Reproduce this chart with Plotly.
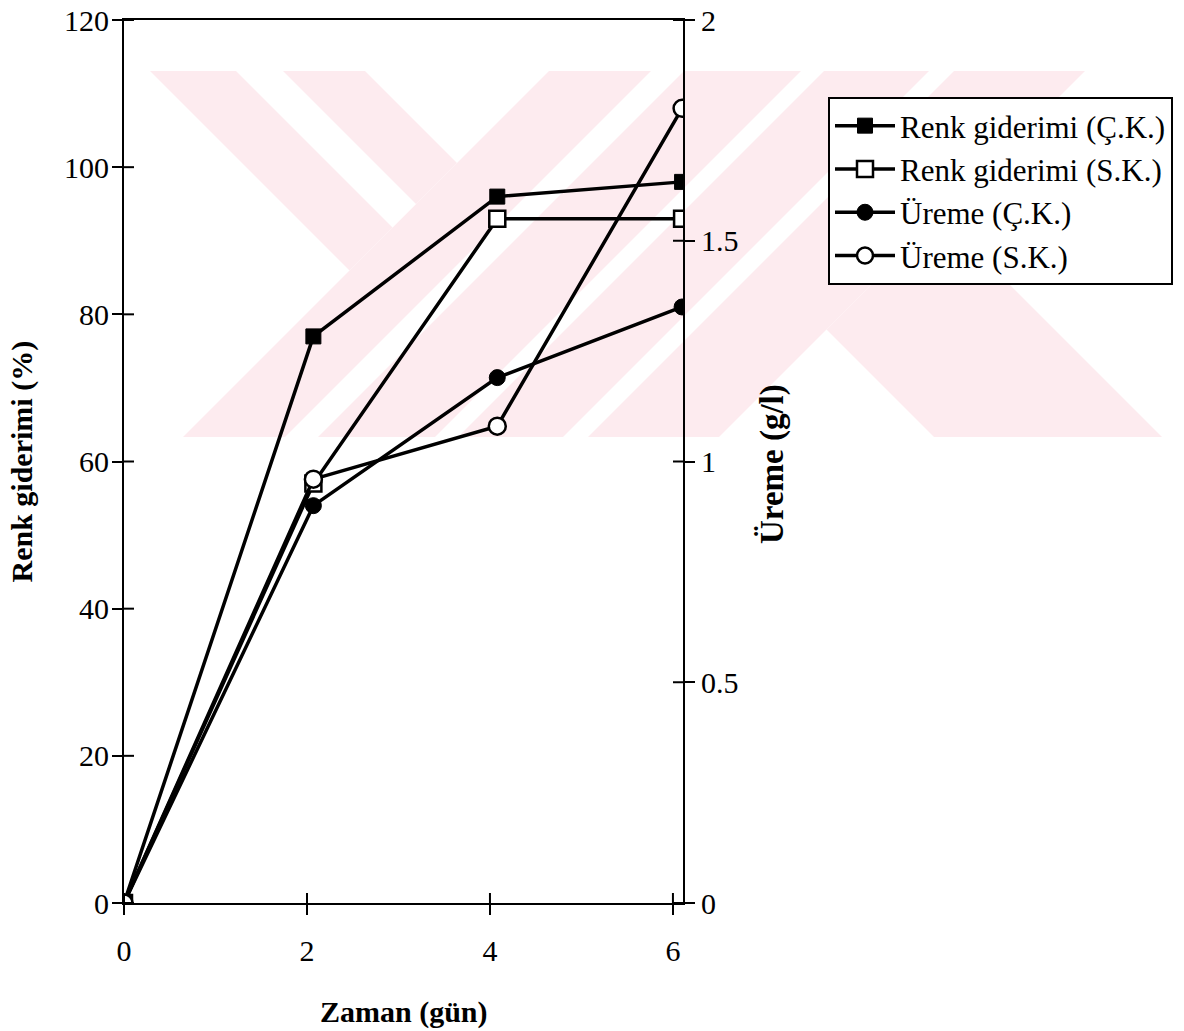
import plotly.graph_objects as go

# ---- data ----
zaman = [0, 2.07, 4.08, 6.10]
renk_ck = [0, 77, 96, 98]
renk_sk = [0, 57, 93, 93]
ureme_ck = [0, 0.90, 1.19, 1.35]
ureme_sk = [0, 0.96, 1.08, 1.80]

x_ticks = [0, 2, 4, 6]
y_left_ticks = [0, 20, 40, 60, 80, 100, 120]
y_right_ticks = [0, 0.5, 1, 1.5, 2]
y_right_labels = ["0", "0.5", "1", "1.5", "2"]

W, H = 1184, 1031
L, R, T, B = 124, 683, 20, 903
FONT = "Liberation Serif"
PINK = "#fdebef"
TICK_IN = 10


def px(x, y):
    return (x - L) / (R - L), (B - y) / (B - T)


def poly(pts, color):
    d = ""
    for i, (x, y) in enumerate(pts):
        u, v = px(x, y)
        d += ("M" if i == 0 else "L") + f"{u:.5f},{v:.5f} "
    d += "Z"
    return dict(type="path", path=d, xref="paper", yref="paper",
                fillcolor=color, line=dict(width=0), layer="below")


# watermark (decorative background logo)
shapes = [
    poly([(150, 71), (365, 71), (457, 163), (349.5, 270.5)], PINK),
    poly([(549, 71), (1085, 71), (719, 437), (183, 437)], PINK),
    poly([(940.5, 215.5), (1162, 437), (934, 437), (826.5, 329.5)], PINK),
    poly([(236, 71), (283, 71), (416, 204), (392.5, 227.5)], "white"),
    poly([(651, 71), (684, 71), (318, 437), (285, 437)], "white"),
    poly([(801, 71), (824, 71), (458, 437), (435, 437)], "white"),
    poly([(929, 71), (954, 71), (588, 437), (563, 437)], "white"),
]

# inner halves of the crossing tick marks (generated from the tick arrays)
tline = dict(color="black", width=2)
for t in x_ticks:
    shapes.append(dict(type="line", xref="x", x0=t, x1=t, yref="paper", ysizemode="pixel",
                       yanchor=0, y0=0, y1=TICK_IN, line=tline))
for v in y_left_ticks:
    shapes.append(dict(type="line", yref="y", y0=v, y1=v, xref="paper", xsizemode="pixel",
                       xanchor=0, x0=0, x1=TICK_IN, line=tline))
for v in y_right_ticks:
    shapes.append(dict(type="line", yref="y2", y0=v, y1=v, xref="paper", xsizemode="pixel",
                       xanchor=1, x0=-TICK_IN, x1=0, line=tline))

fig = go.Figure()
fig.add_trace(go.Scatter(x=zaman, y=renk_ck, name="Renk giderimi (Ç.K.)", mode="lines+markers",
                         line=dict(color="black", width=3.5),
                         marker=dict(symbol="square", size=15, color="black",
                                     line=dict(color="black", width=1))))
fig.add_trace(go.Scatter(x=zaman, y=renk_sk, name="Renk giderimi (S.K.)", mode="lines+markers",
                         line=dict(color="black", width=3.5),
                         marker=dict(symbol="square", size=16, color="white",
                                     line=dict(color="black", width=2.5))))
fig.add_trace(go.Scatter(x=zaman, y=ureme_ck, name="Üreme (Ç.K.)", mode="lines+markers",
                         yaxis="y2", line=dict(color="black", width=3.5),
                         marker=dict(symbol="circle", size=16, color="black",
                                     line=dict(color="black", width=1))))
fig.add_trace(go.Scatter(x=zaman, y=ureme_sk, name="Üreme (S.K.)", mode="lines+markers",
                         yaxis="y2", line=dict(color="black", width=3.5),
                         marker=dict(symbol="circle", size=17, color="white",
                                     line=dict(color="black", width=2.5))))

tickfont = dict(family=FONT, size=30, color="black")
xr = [0, 6.11]
common = dict(showgrid=False, zeroline=False, automargin=False, tickwidth=2, tickcolor="black", ticklen=10)
fig.update_layout(
    width=W, height=H,
    margin=dict(l=L, r=W - R, t=T, b=H - B, autoexpand=False),
    paper_bgcolor="white", plot_bgcolor="rgba(0,0,0,0)",
    font=dict(family=FONT, size=30, color="black"),
    showlegend=True,
    legend=dict(x=(828 - L) / (R - L), y=(B - 97) / (B - T), xanchor="left", yanchor="top",
                bgcolor="white", bordercolor="black", borderwidth=2,
                font=dict(family=FONT, size=31, color="black"), itemwidth=60),
    xaxis=dict(range=xr, tickvals=x_ticks, ticks="outside",
               showline=True, linewidth=2, linecolor="black", mirror=True,
               tickfont=tickfont, ticklabelstandoff=10, **common),
    yaxis=dict(range=[0, 120], tickvals=y_left_ticks, ticks="outside",
               showline=True, linewidth=2, linecolor="black",
               tickfont=tickfont, ticklabelstandoff=-3, **common),
    yaxis2=dict(range=[0, 2], overlaying="y", side="right", tickvals=y_right_ticks,
                ticktext=y_right_labels, ticks="outside",
                showline=True, linewidth=2, linecolor="black",
                tickfont=tickfont, ticklabelstandoff=0, **common),
    shapes=shapes,
    annotations=[
        dict(text="<b>Zaman (gün)</b>", xref="paper", yref="paper", x=0.5, y=px(0, 1012)[1],
             xanchor="center", yanchor="middle", showarrow=False,
             font=dict(family=FONT, size=30, color="black")),
        dict(text="<b>Renk giderimi (%)</b>", xref="paper", yref="paper", x=px(21, 0)[0], y=0.5,
             xanchor="center", yanchor="middle", textangle=-90, showarrow=False,
             font=dict(family=FONT, size=30, color="black")),
        dict(text="<b>Üreme (g/l)</b>", xref="paper", yref="paper", x=px(772, 0)[0], y=px(0, 464)[1],
             xanchor="center", yanchor="middle", textangle=-90, showarrow=False,
             font=dict(family=FONT, size=33, color="black")),
    ],
)

fig.write_html("out.html", config={"displayModeBar": False})
with open("out.html", "r", encoding="utf-8") as f:
    html = f.read()
html = html.replace("<head>", "<head><style>html,body{margin:0;padding:0;overflow:hidden;}</style>", 1)
with open("out.html", "w", encoding="utf-8") as f:
    f.write(html)
